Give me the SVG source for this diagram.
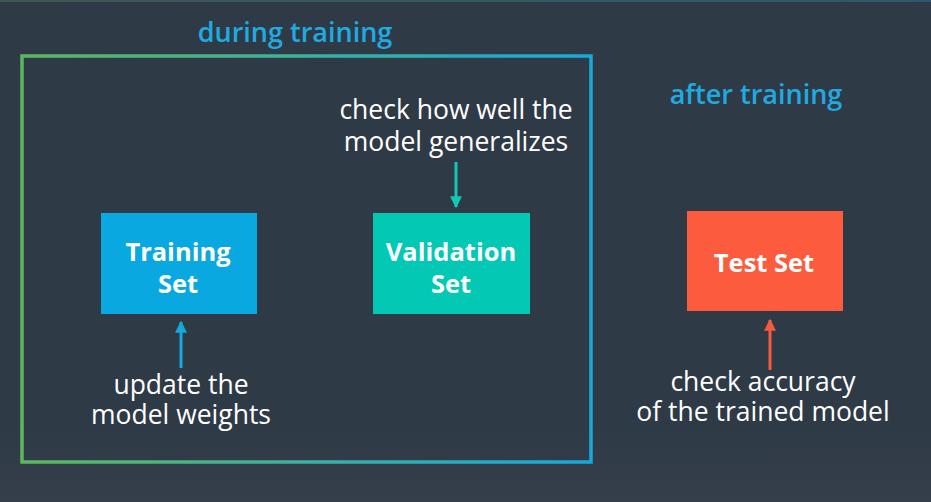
<svg xmlns="http://www.w3.org/2000/svg" width="931" height="502" viewBox="0 0 931 502">
<defs>
<linearGradient id="frameGrad" x1="0" y1="0" x2="1" y2="0">
<stop offset="0" stop-color="#5cb85f"/>
<stop offset="0.5" stop-color="#3cb1a0"/>
<stop offset="1" stop-color="#17a9db"/>
</linearGradient>
<linearGradient id="bgGrad" x1="0" y1="0" x2="0" y2="1">
<stop offset="0" stop-color="#2f3a47"/>
<stop offset="0.85" stop-color="#2f3a47"/>
<stop offset="1" stop-color="#353f4b"/>
</linearGradient>
<linearGradient id="topGrad" x1="0" y1="0" x2="1" y2="0">
<stop offset="0" stop-color="#3b5a52"/>
<stop offset="1" stop-color="#2f5870"/>
</linearGradient>
<marker id="headBlue" viewBox="0 0 10 10" refX="9" refY="5" markerWidth="4" markerHeight="4" orient="auto"><path d="M0,0 L10,5 L0,10 z" fill="#14a9dc"/></marker>
<marker id="headTeal" viewBox="0 0 10 10" refX="9" refY="5" markerWidth="4" markerHeight="4" orient="auto"><path d="M0,0 L10,5 L0,10 z" fill="#12c7b4"/></marker>
<marker id="headRed" viewBox="0 0 10 10" refX="9" refY="5" markerWidth="4" markerHeight="4" orient="auto"><path d="M0,0 L10,5 L0,10 z" fill="#f55a3e"/></marker>
</defs>
<style>
.lbl{font-family:"Open Sans","Noto Sans","Liberation Sans",sans-serif;font-size:26.5px;font-weight:500;fill:#ffffff;text-anchor:middle}
.hdr{font-family:"Open Sans","Noto Sans","Liberation Sans",sans-serif;font-size:27px;font-weight:600;fill:#1fabe0;text-anchor:middle}
.box{font-family:"Open Sans","Noto Sans","Liberation Sans",sans-serif;font-size:25.5px;font-weight:700;fill:#ffffff;text-anchor:middle}
.conn{stroke-width:3;fill:none}
</style>
<rect x="0" y="0" width="931" height="502" fill="url(#bgGrad)"/>
<rect x="0" y="0" width="931" height="2" fill="url(#topGrad)"/>

<g id="during-training">
<rect x="22" y="56" width="569" height="406" fill="none" stroke="url(#frameGrad)" stroke-width="3.5"/>
<text class="hdr" x="295" y="42">during training</text>
</g>
<g id="after-training">
<text class="hdr" x="756" y="104">after training</text>
</g>

<g id="training-set">
<rect x="101" y="213" width="156" height="101" fill="#0aa8e0"/>
<text class="box" x="178" y="261">Training</text>
<text class="box" x="178" y="293">Set</text>
</g>
<g id="validation-set">
<rect x="373" y="213" width="157" height="101" fill="#02c8b4"/>
<text class="box" x="451" y="261">Validation</text>
<text class="box" x="451" y="293">Set</text>
</g>
<g id="test-set">
<rect x="687" y="211" width="156" height="100" fill="#fd5b3d"/>
<text class="box" x="764" y="272">Test Set</text>
</g>

<g id="label-training">
<text class="lbl" x="181" y="394">update the</text>
<text class="lbl" x="181" y="424">model weights</text>
</g>
<g id="label-validation">
<text class="lbl" x="456" y="119">check how well the</text>
<text class="lbl" x="456" y="151">model generalizes</text>
</g>
<g id="label-test">
<text class="lbl" x="763" y="391">check accuracy</text>
<text class="lbl" x="763" y="421">of the trained model</text>
</g>

<g id="connectors">
<line class="conn" x1="181" y1="368" x2="181" y2="322" stroke="#14a9dc" marker-end="url(#headBlue)"/>
<line class="conn" x1="456" y1="162" x2="456" y2="207" stroke="#12c7b4" marker-end="url(#headTeal)"/>
<line class="conn" x1="770" y1="370" x2="770" y2="320" stroke="#f55a3e" marker-end="url(#headRed)"/>
</g>
</svg>
